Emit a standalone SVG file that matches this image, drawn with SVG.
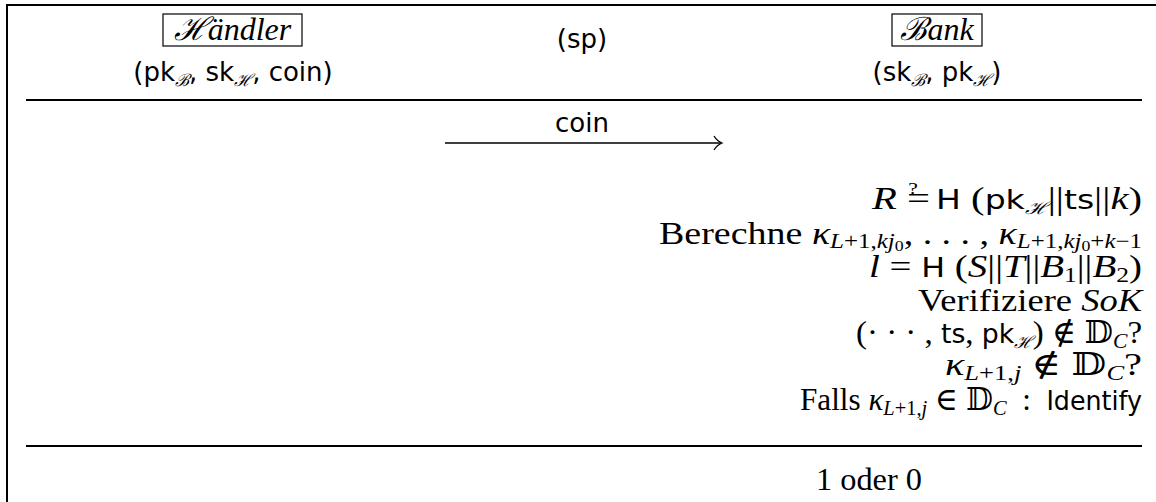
<svg xmlns="http://www.w3.org/2000/svg" width="1156" height="502" viewBox="0 0 1156 502">
<style>
.rm{font-family:"Liberation Serif","DejaVu Serif",serif;font-size:32px;fill:#000}
.mi{font-family:"Liberation Serif","DejaVu Serif",serif;font-style:italic}
.sf{font-family:"DejaVu Sans","Liberation Sans",sans-serif;font-size:26px}
.sub{font-size:21px}
.cal{font-size:17px;font-family:"DejaVu Serif",serif;font-style:italic}
.ssub{font-size:15px}
.ln{stroke:#000;stroke-width:2;fill:none}
.box{stroke:#000;stroke-width:1.2;fill:none}
</style>
<rect width="1156" height="502" fill="#fff"/>
<g id="frame">
<line class="ln" x1="6" y1="5" x2="1156" y2="5"/>
<line class="ln" x1="7" y1="4" x2="7" y2="502"/>
<line class="ln" x1="26" y1="100" x2="1142" y2="100"/>
<line class="ln" x1="26" y1="446" x2="1142" y2="446"/>
</g>
<g id="haendler">
<rect class="box" x="163" y="14" width="139" height="32"/>
<text class="rm mi" x="232.5" y="40" text-anchor="middle" font-size="30">ℋändler</text>
<text class="sf" x="233" y="81" text-anchor="middle">(pk<tspan class="cal" dy="5">ℬ</tspan><tspan dy="-5">, sk</tspan><tspan class="cal" dy="5">ℋ</tspan><tspan dy="-5">, coin)</tspan></text>
</g>
<g id="sp">
<text class="sf" x="582" y="48" text-anchor="middle">(sp)</text>
</g>
<g id="bank">
<rect class="box" x="892" y="14" width="90" height="32"/>
<text class="rm mi" x="937" y="40" text-anchor="middle" font-size="30">ℬank</text>
<text class="sf" x="937" y="81" text-anchor="middle">(sk<tspan class="cal" dy="5">ℬ</tspan><tspan dy="-5">, pk</tspan><tspan class="cal" dy="5">ℋ</tspan><tspan dy="-5">)</tspan></text>
</g>
<g id="connectors">
<text class="sf" x="582" y="132" text-anchor="middle">coin</text>
<line x1="445" y1="143" x2="721" y2="143" stroke="#000" stroke-width="1.3"/>
<path d="M714,136 Q717,141 722,143 Q717,145 714,150" stroke="#000" stroke-width="1.3" fill="none"/>
</g>
<g id="bank-steps">
<text class="rm" x="1142" y="209" text-anchor="end" textLength="270" lengthAdjust="spacingAndGlyphs"><tspan class="mi">R</tspan> =<tspan font-size="17" dx="-17" dy="-15">?</tspan><tspan dx="6" dy="15" class="sf"> H</tspan> (<tspan class="sf">pk</tspan><tspan class="cal" dy="5">ℋ</tspan><tspan dy="-5">||</tspan><tspan class="sf">ts</tspan>||<tspan class="mi">k</tspan>)</text>
<text class="rm" x="1142" y="244" text-anchor="end" textLength="483" lengthAdjust="spacingAndGlyphs">Berechne <tspan class="mi">κ</tspan><tspan class="sub" dy="4"><tspan class="mi">L</tspan>+1,<tspan class="mi">kj</tspan></tspan><tspan class="ssub" dy="3">0</tspan><tspan dy="-7">, . . . , </tspan><tspan class="mi">κ</tspan><tspan class="sub" dy="4"><tspan class="mi">L</tspan>+1,<tspan class="mi">kj</tspan></tspan><tspan class="ssub" dy="3">0</tspan><tspan class="sub" dy="-3">+<tspan class="mi">k</tspan>−1</tspan></text>
<text class="rm" x="1142" y="277" text-anchor="end" textLength="273" lengthAdjust="spacingAndGlyphs"><tspan class="mi">l</tspan> = <tspan class="sf">H</tspan> (<tspan class="mi">S</tspan>||<tspan class="mi">T</tspan>||<tspan class="mi">B</tspan><tspan class="sub" dy="5">1</tspan><tspan dy="-5">||</tspan><tspan class="mi">B</tspan><tspan class="sub" dy="5">2</tspan><tspan dy="-5">)</tspan></text>
<text class="rm" x="1142" y="311" text-anchor="end" textLength="224" lengthAdjust="spacingAndGlyphs">Verifiziere <tspan class="mi">SoK</tspan></text>
<text class="rm" x="1142" y="343" text-anchor="end" textLength="286" lengthAdjust="spacingAndGlyphs">(· · · , <tspan class="sf">ts</tspan>, <tspan class="sf">pk</tspan><tspan class="cal" dy="5">ℋ</tspan><tspan dy="-5">) ∉ 𝔻</tspan><tspan class="sub mi" dy="5">C</tspan><tspan dy="-5">?</tspan></text>
<text class="rm" x="1142" y="375" text-anchor="end" textLength="197" lengthAdjust="spacingAndGlyphs"><tspan class="mi">κ</tspan><tspan class="sub" dy="5"><tspan class="mi">L</tspan>+1,<tspan class="mi">j</tspan></tspan><tspan dy="-5"> ∉ 𝔻</tspan><tspan class="sub mi" dy="5">C</tspan><tspan dy="-5">?</tspan></text>
<text class="rm" x="1142" y="410" text-anchor="end" textLength="342" lengthAdjust="spacingAndGlyphs">Falls <tspan class="mi">κ</tspan><tspan class="sub" dy="5"><tspan class="mi">L</tspan>+1,<tspan class="mi">j</tspan></tspan><tspan dy="-5"> ∈ 𝔻</tspan><tspan class="sub mi" dy="5">C</tspan><tspan dy="-5">&#160; : &#160;</tspan><tspan class="sf">Identify</tspan></text>
<text class="rm" x="869" y="490" text-anchor="middle" textLength="106" lengthAdjust="spacingAndGlyphs">1 oder 0</text>
</g>
</svg>
